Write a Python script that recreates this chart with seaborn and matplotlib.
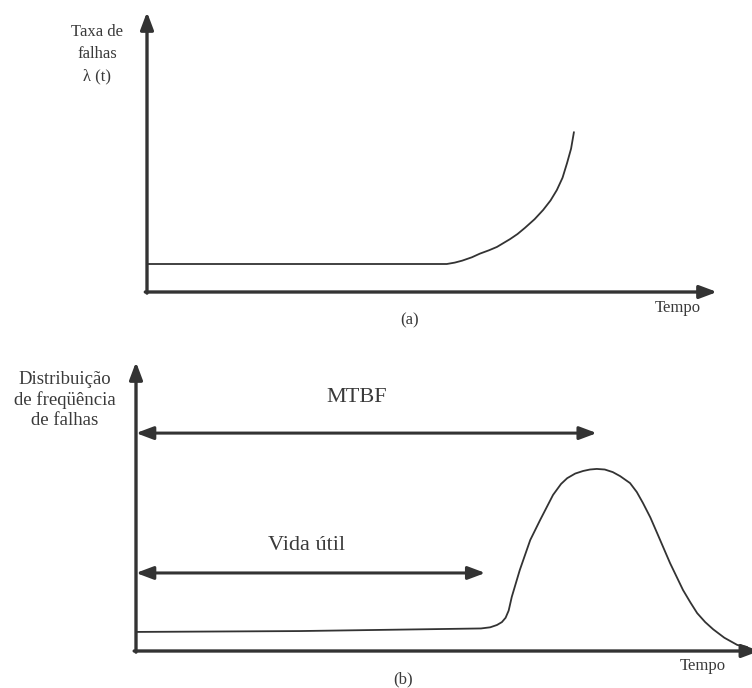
import matplotlib
matplotlib.use("Agg")
import matplotlib.pyplot as plt
import seaborn as sns
import pandas as pd

sns.set_style("white")
plt.rcParams['font.family'] = ['Liberation Serif', 'DejaVu Serif']

# ---- data (arbitrary units) ----
# (a) failure rate curve
t_a = [0.0, 5.26, 5.40, 5.53, 5.70, 5.84, 6.00, 6.14, 6.37, 6.50, 6.63, 6.80,
       6.95, 7.08, 7.19, 7.29, 7.37, 7.44, 7.49]
lam_a = [1.0, 1.0, 1.05, 1.12, 1.24, 1.37, 1.49, 1.61, 1.89, 2.07, 2.29, 2.60,
         2.93, 3.27, 3.64, 4.08, 4.61, 5.12, 5.71]

# (b) failure frequency distribution
t_b = [0.02, 2.66, 5.60, 5.75, 5.86, 5.94, 6.00, 6.05, 6.10, 6.23, 6.40, 6.56,
       6.77, 6.90, 7.00, 7.13, 7.26, 7.37, 7.48, 7.61, 7.74, 7.86, 8.02, 8.13,
       8.23, 8.35, 8.46, 8.67, 8.88, 9.00, 9.11, 9.24, 9.37, 9.55, 9.76, 9.92]
f_b = [0.66, 0.69, 0.78, 0.82, 0.90, 1.00, 1.15, 1.40, 1.87, 2.80, 3.84, 4.53,
       5.40, 5.78, 5.98, 6.14, 6.23, 6.28, 6.30, 6.28, 6.19, 6.05, 5.81, 5.50,
       5.12, 4.62, 4.08, 3.04, 2.11, 1.68, 1.31, 1.00, 0.75, 0.46, 0.21, 0.14]

mtbf_end, mtbf_level = 7.48, 7.54
vida_end, vida_level = 5.67, 2.70

ink = "#333333"
txt = "#3a3a3a"

W, H = 752, 688
fig = plt.figure(figsize=(W / 100, H / 100), dpi=100)


def px_axes(x0, y0, x1, y1):
    return fig.add_axes([x0 / W, (H - y0) / H, (x1 - x0) / W, (y0 - y1) / H])


HEAD = "-|>,head_length=0.8,head_width=0.3"


def style_axes(ax, xr=10.0):
    ax.set_xlim(0, 10)
    ax.set_ylim(0, 10)
    for s in ax.spines.values():
        s.set_visible(False)
    ax.set_xticks([])
    ax.set_yticks([])
    ax.set_xlabel("")
    ax.set_ylabel("")
    ax.patch.set_alpha(0)
    ap = dict(arrowstyle=HEAD, color=ink, lw=2.4, mutation_scale=13,
              shrinkA=0, shrinkB=0)
    ax.annotate("", xy=(0, 1), xytext=(0, -0.004), xycoords="axes fraction",
                arrowprops=ap, annotation_clip=False)
    ax.annotate("", xy=(xr / 10, 0), xytext=(-0.003, 0), xycoords="axes fraction",
                arrowprops=ap, annotation_clip=False)


# ---- panel (a) ----
ax1 = px_axes(147, 292, 717, 12)
sns.lineplot(data=pd.DataFrame({"t": t_a, "lam": lam_a}), x="t", y="lam",
             ax=ax1, color=ink, lw=1.3, sort=False, estimator=None)
style_axes(ax1)

# ---- panel (b) ----
ax2 = px_axes(136, 651, 752, 362)
sns.lineplot(data=pd.DataFrame({"t": t_b, "f": f_b}), x="t", y="f",
             ax=ax2, color=ink, lw=1.3, sort=False, estimator=None)
style_axes(ax2, xr=10.12)
dap = dict(arrowstyle="<|-|>,head_length=0.8,head_width=0.3", color=ink,
           lw=2.2, mutation_scale=13, shrinkA=0, shrinkB=0)
ax2.annotate("", xy=(mtbf_end, mtbf_level), xytext=(0, mtbf_level),
             arrowprops=dap, annotation_clip=False)
ax2.annotate("", xy=(vida_end, vida_level), xytext=(0, vida_level),
             arrowprops=dap, annotation_clip=False)


def ptext(x, y, s, size, **kw):
    fig.text(x / W, 1 - y / H, s, fontsize=size, color=txt,
             ha="center", va="center", **kw)


ptext(97, 54, "Taxa de\nfalhas\nλ (t)", 12, linespacing=1.5)
ptext(410, 320, "(a)", 12)
ptext(678, 308, "Tempo", 12)

ptext(65, 400, "Distribuição\nde freqüência\nde falhas", 13.5, linespacing=1.25)
ptext(357, 397, "MTBF", 16)
ptext(307, 545, "Vida útil", 16)
ptext(403, 679, "(b)", 12)
ptext(703, 666, "Tempo", 12)

fig.savefig("out.png", dpi=100)
